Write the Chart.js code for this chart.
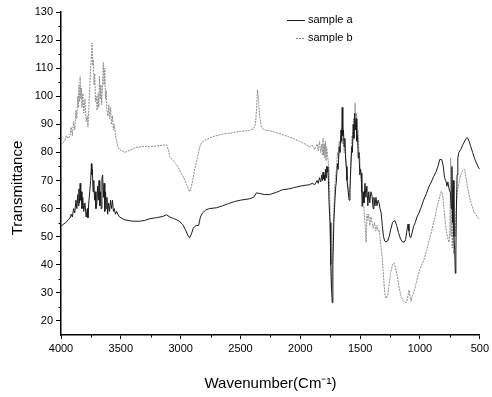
<!DOCTYPE html>
<html>
<head>
<meta charset="utf-8">
<script src="https://cdn.jsdelivr.net/npm/chart.js@4.4.1/dist/chart.umd.min.js"></script>
<style>
html,body{margin:0;padding:0;background:#fff;}
#c{display:block;}
</style>
</head>
<body>
<canvas id="c" width="492" height="397"></canvas>
<script>
// ---- data ----
const seriesNames = ["sample a", "sample b"];
const xTickValues = [4000, 3500, 3000, 2500, 2000, 1500, 1000, 500];
const yTickValues = [20, 30, 40, 50, 60, 70, 80, 90, 100, 110, 120, 130];

const wnA = [4000,3980,3960,3940,3925,3915,3905,3895,3885,3875,3868,3860,3855,3850,3845,3840,3835,3830,3825,3818,3810,3800,3790,3780,3775,3768,3760,3752,3746,3742,3738,3732,3726,3720,3714,3708,3700,3694,3688,3682,3676,3670,3664,3658,3652,3646,3640,3634,3628,3622,3616,3610,3602,3594,3586,3578,3570,3562,3555,3545,3535,3525,3510,3490,3467,3440,3400,3342,3300,3258,3200,3150,3117,3090,3060,3033,3010,2983,2960,2940,2925,2910,2895,2883,2870,2850,2835,2817,2790,2760,2700,2650,2600,2550,2500,2425,2390,2367,2340,2300,2258,2200,2150,2100,2050,2000,1960,1925,1900,1880,1860,1850,1840,1830,1820,1815,1810,1805,1800,1795,1790,1785,1780,1775,1770,1765,1760,1752,1745,1738,1733,1728,1720,1712,1704,1700,1690,1684,1675,1668,1660,1655,1650,1645,1640,1634,1628,1622,1616,1610,1600,1592,1585,1578,1570,1565,1558,1552,1546,1540,1534,1528,1522,1516,1510,1503,1497,1492,1486,1483,1476,1468,1460,1452,1444,1436,1428,1420,1410,1400,1392,1385,1376,1368,1360,1350,1342,1334,1325,1315,1305,1295,1283,1270,1258,1245,1230,1218,1208,1195,1180,1165,1150,1133,1120,1110,1100,1092,1085,1078,1068,1055,1040,1025,1008,990,970,950,925,905,885,867,850,835,817,805,795,785,775,767,757,745,738,733,728,722,716,710,705,700,695,690,684,675,660,645,633,620,608,600,590,575,560,545,533,520,510,500];
const transA = [53.6,54.5,55,56,56.7,58,57,60,58.5,63,60,65,61,67,62,69,63,66,60,64,59,62,57,60,56.7,62,66,70,76,72,74,66,70,63,66,60,62,68,63,70,61,66,60,71,72,64,69,59,66,60,64,58,62,59,63,60,63,59,60,58,59,58,57,56.5,56,55.8,55.5,55.5,55.8,56.4,56.8,57.2,57.8,57,56.5,56,55.5,54.3,52.5,50.5,49.6,51,53,53.6,54,54,57,58.5,59.5,60,60.3,61,61.8,62.5,63,63.5,64,65.6,65.4,65,65,65.8,66.7,67,67.5,68,68.3,68.5,69,68.5,70,69,71,69.5,72,70,73,70.5,72,70,74,71,75,73,75,70,62,55,40,30,26.5,40,55,62,68,69,76,74,82,80,88,84,96,86,88,82,85,78,75,70,66,63,67,75,82,80,90,85,94,88,92,84,86,78,80,72,74,72.6,66,60.8,66,62,69,64,68,61,66,62,66,64.3,60,64,61,64,61,63,62,60,58.5,54,50,48.5,48.2,48.5,50,52.5,55,55.6,55.6,54,51.5,49.5,48.3,48,49,52,54.5,52,50,49.6,51,53.5,55,57,58.5,60.5,63,65,67.8,69.5,71.5,73,75,77.5,77.4,75,71,70,68,69.5,67,65.6,60,75,55,70,50,45,37,45,62,72,78,80,81,82.5,83.5,84.5,85.3,85,84,82,80,78,76.7,75.5,74.5,74];

const wnB = [4000,3985,3970,3955,3940,3925,3915,3905,3895,3885,3875,3868,3860,3855,3850,3845,3840,3835,3830,3825,3818,3810,3800,3790,3780,3775,3768,3760,3752,3746,3740,3735,3730,3724,3718,3712,3706,3698,3690,3684,3678,3672,3666,3660,3654,3646,3640,3634,3628,3622,3616,3608,3600,3594,3586,3578,3570,3562,3555,3545,3535,3525,3510,3490,3467,3440,3400,3383,3340,3300,3258,3200,3150,3117,3100,3092,3060,3040,3025,3000,2975,2950,2935,2925,2910,2895,2883,2860,2840,2825,2790,2733,2650,2567,2500,2425,2390,2375,2365,2358,2350,2340,2325,2300,2258,2200,2150,2100,2050,2008,1960,1925,1900,1880,1860,1850,1840,1830,1820,1815,1810,1805,1800,1795,1790,1785,1780,1770,1760,1752,1745,1740,1735,1728,1720,1712,1704,1698,1690,1682,1675,1668,1660,1650,1642,1634,1626,1618,1610,1600,1592,1584,1576,1568,1562,1556,1550,1542,1536,1530,1524,1518,1510,1503,1496,1490,1484,1476,1468,1460,1450,1443,1436,1428,1420,1410,1400,1390,1380,1370,1360,1350,1342,1330,1317,1305,1295,1283,1270,1258,1245,1230,1217,1205,1190,1175,1160,1145,1130,1117,1105,1092,1085,1075,1065,1050,1035,1020,1008,990,967,945,925,900,880,860,840,825,817,808,800,790,780,770,758,750,744,740,735,730,724,718,712,705,700,694,688,680,670,660,645,633,625,615,605,592,580,565,550,535,520,510,500];
const transB = [82.7,83.5,84,86,85,86,89,86,91,88,95,92,100,96,104,98,107,99,103,96,101,94,99,91,93,89,95,103,110,114,119,111,113,104,108,98,100,95,101,96,107,99,104,97,103,112,104,110,99,102,95,93,97,92,96,90,93,88,90,86,84,82,81,80.5,80,80.5,81.2,81.7,82,82.2,82,82.3,82.6,82.7,80.5,78.5,77,76,75,73,71,68.5,67,66,68,71,74,78,82,83.5,84.5,85.6,86.5,87,87.5,87.8,88.5,90,96,102.3,99,93,89,88,87.8,87,86.4,85.6,84.8,84,83,82,82.5,81,83,80.5,84,80,83,79,85,79,83,78,84,77,82,78,74,60,40,31,35,50,60,68,72,74,80,78,84,80,86,83,85,80,82,76,72,67,64,68,78,86,84,92,88,97.7,90,94,86,88,80,78,72,70,64,62,60,55,48,58,56,58,54,57,55,53,55,52,54,52,52.5,48,43,36,30,28,29,33,37,40,40.7,39,36,32,29,27.5,26.8,26.5,28,31,29,27,29,30.5,33,35.5,37.5,39.5,41.8,45,48.5,52.5,56,60,63.5,66,66,64,60,56,52,50,48,52,78,50,70,46,62,44,55,50,58,62,66,68,70,72,73.5,74,73.8,71,68,65.6,63,61,59,58,57,56.5,56];

const pointsA = wnA.map((w, i) => ({x: w, y: transA[i]}));
const pointsB = wnB.map((w, i) => ({x: w, y: transB[i]}));

// ---- helpers drawn through the library's scales ----
const extrasPlugin = {
  id: 'extras',
  afterDraw(chart) {
    const ctx = chart.ctx;
    const xs = chart.scales.x, ys = chart.scales.y;
    const area = chart.chartArea;
    ctx.save();
    ctx.strokeStyle = '#000';
    ctx.lineWidth = 1;
    // minor ticks x
    for (let v = 750; v < 4000; v += 500) {
      const px = Math.round(xs.getPixelForValue(v)) + 0.5;
      ctx.beginPath(); ctx.moveTo(px, area.bottom); ctx.lineTo(px, area.bottom + 2.5); ctx.stroke();
    }
    // minor ticks y
    for (let v = 25; v < 130; v += 10) {
      const py = Math.round(ys.getPixelForValue(v)) + 0.5;
      ctx.beginPath(); ctx.moveTo(area.left, py); ctx.lineTo(area.left - 2.5, py); ctx.stroke();
    }
    // y axis title
    ctx.fillStyle = '#000';
    ctx.font = '15px "Liberation Sans", Arial, sans-serif';
    ctx.textAlign = 'center';
    ctx.textBaseline = 'middle';
    ctx.translate(18, 188);
    ctx.rotate(-Math.PI / 2);
    ctx.fillText('Transmittance', 0, 0);
    ctx.restore();

    // legend
    ctx.save();
    ctx.font = '11px "Liberation Sans", Arial, sans-serif';
    ctx.textAlign = 'left';
    ctx.textBaseline = 'middle';
    chart.data.datasets.forEach((ds, i) => {
      const y = 20 + i * 18;
      ctx.strokeStyle = ds.borderColor;
      ctx.lineWidth = 1;
      ctx.setLineDash(ds.borderDash || []);
      ctx.beginPath();
      ctx.moveTo(i === 0 ? 287 : 296, y + 0.5);
      ctx.lineTo(305, y + 0.5);
      ctx.stroke();
      ctx.setLineDash([]);
      ctx.fillStyle = '#000';
      ctx.fillText(ds.label, 308, y);
    });
    ctx.restore();
  }
};

new Chart(document.getElementById('c'), {
  type: 'line',
  data: {
    datasets: [
      {label: seriesNames[0], data: pointsA, borderColor: '#1c1c1c', borderWidth: 1, pointRadius: 0, tension: 0, fill: false},
      {label: seriesNames[1], data: pointsB, borderColor: '#8a8a8a', borderWidth: 1, borderDash: [2, 1], pointRadius: 0, tension: 0, fill: false}
    ]
  },
  options: {
    responsive: false,
    animation: false,
    devicePixelRatio: 1,
    layout: {padding: {left: 0, right: 11, top: 12, bottom: 0}},
    plugins: {legend: {display: false}, tooltip: {enabled: false}},
    scales: {
      x: {
        type: 'linear', reverse: true, min: 500, max: 4000,
        afterBuildTicks: (axis) => { axis.ticks = xTickValues.map(v => ({value: v})); },
        afterFit: (axis) => { axis.height = 62; },
        ticks: {color: '#000', font: {size: 11, family: '"Liberation Sans", Arial, sans-serif'}, padding: 3, maxRotation: 0, autoSkip: false, callback: (v) => String(v)},
        grid: {drawOnChartArea: false, drawTicks: true, tickLength: 4, color: '#000', tickWidth: 1},
        border: {display: true, color: '#000', width: 1.5},
        title: {display: true, text: 'Wavenumber(Cm\u207B\u00B9)', color: '#000', font: {size: 15, family: '"Liberation Sans", Arial, sans-serif'}, padding: {top: 0, bottom: 4}}
      },
      y: {
        type: 'linear', min: 15, max: 130,
        afterBuildTicks: (axis) => { axis.ticks = yTickValues.map(v => ({value: v})); },
        afterFit: (axis) => { axis.width = 61; },
        ticks: {color: '#000', font: {size: 11, family: '"Liberation Sans", Arial, sans-serif'}, padding: 3, callback: (v) => String(v)},
        grid: {drawOnChartArea: false, drawTicks: true, tickLength: 5, color: '#000', tickWidth: 1},
        border: {display: true, color: '#000', width: 1.5},
        title: {display: false}
      }
    }
  },
  plugins: [extrasPlugin]
});
</script>
</body>
</html>
